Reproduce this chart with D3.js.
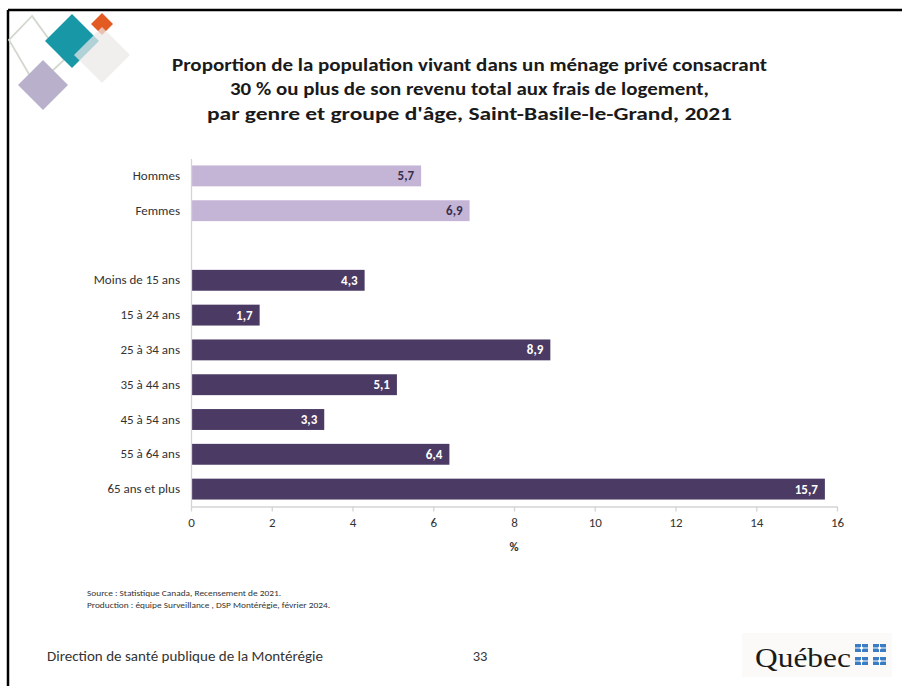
<!DOCTYPE html>
<html>
<head>
<meta charset="utf-8">
<script src="https://cdn.jsdelivr.net/npm/d3@7"></script>
<style>
  html, body { margin: 0; padding: 0; background: #fff; }
  svg { display: block; font-family: "Carlito", "Liberation Sans", Arial, sans-serif; }
</style>
</head>
<body>
<svg id="chart" width="902" height="686"></svg>
<script>
// ---- Data ----
const categories = ["Hommes", "Femmes", "", "Moins de 15 ans", "15 à 24 ans", "25 à 34 ans", "35 à 44 ans", "45 à 54 ans", "55 à 64 ans", "65 ans et plus"];
const values = [5.7, 6.9, null, 4.3, 1.7, 8.9, 5.1, 3.3, 6.4, 15.7];
const groups = ["genre", "genre", null, "age", "age", "age", "age", "age", "age", "age"];
const xTicks = [0, 2, 4, 6, 8, 10, 12, 14, 16];
const titleLines = [
  "Proportion de la population vivant dans un ménage privé consacrant",
  "30 % ou plus de son revenu total aux frais de logement,",
  "par genre et groupe d'âge, Saint-Basile-le-Grand, 2021"
];
const xAxisTitle = "%";
const sourceLines = [
  "Source : Statistique Canada, Recensement de 2021.",
  "Production : équipe Surveillance , DSP Montérégie, février 2024."
];
const footerLeft = "Direction de santé publique de la Montérégie";
const pageNumber = "33";

const colors = { genre: "#c4b5d6", age: "#4b3a63" };
const labelColors = { genre: "#3a2e4c", age: "#ffffff" };

const svg = d3.select("#chart");
const fmt = v => d3.format(".1f")(v).replace(".", ",");

// ---- Slide frame ----
svg.append("line").attr("x1", 8).attr("x2", 902).attr("y1", 10).attr("y2", 10)
  .attr("stroke", "#000").attr("stroke-width", 2.5);
svg.append("line").attr("x1", 8).attr("x2", 8).attr("y1", 10).attr("y2", 686)
  .attr("stroke", "#000").attr("stroke-width", 2.5);

// ---- Decorative logo (top-left) ----
const deco = svg.append("g");
function diamond(cx, cy, r) { return `${cx},${cy - r} ${cx + r},${cy} ${cx},${cy + r} ${cx - r},${cy}`; }
deco.append("polygon").attr("points", "32,16 9,40 36,86 64,60")
  .attr("fill", "none").attr("stroke", "#d2d8cd").attr("stroke-width", 1.8);
deco.append("polygon").attr("points", diamond(43, 85, 25)).attr("fill", "#b9b1cc");
deco.append("polygon").attr("points", diamond(72, 41, 27)).attr("fill", "#1898a7");
deco.append("polygon").attr("points", diamond(102, 24, 11)).attr("fill", "#e45a23");
deco.append("polygon").attr("points", diamond(102, 55, 28)).attr("fill", "#ebe8e7").attr("fill-opacity", 0.72);

// ---- Title ----
const titleWidths = [595, 479, 525];
const titleY = [71, 95, 120];
titleLines.forEach((t, i) => {
  svg.append("text").attr("x", 469.5).attr("y", titleY[i]).attr("text-anchor", "middle")
    .attr("font-size", 19).attr("font-weight", "bold").attr("fill", "#1a1a1a")
    .attr("textLength", titleWidths[i]).attr("lengthAdjust", "spacingAndGlyphs")
    .text(t);
});

// ---- Scales ----
const x = d3.scaleLinear().domain([0, 16]).range([191, 837]);
const y = d3.scaleBand().domain(categories).range([158.5, 506.5]).paddingInner(0.4).paddingOuter(0.2);

const rows = categories.map((c, i) => ({ c, v: values[i], g: groups[i] })).filter(d => d.v != null);

// ---- Bars ----
svg.append("g").selectAll("rect").data(rows).join("rect")
  .attr("x", x(0)).attr("y", d => y(d.c))
  .attr("width", d => x(d.v) - x(0)).attr("height", y.bandwidth())
  .attr("fill", d => colors[d.g]);

// ---- Value labels ----
svg.append("g").selectAll("text").data(rows).join("text")
  .attr("x", d => x(d.v) - 7).attr("y", d => y(d.c) + y.bandwidth() / 2)
  .attr("dy", "0.35em").attr("text-anchor", "end")
  .attr("font-size", 13).attr("font-weight", "bold")
  .attr("fill", d => labelColors[d.g])
  .text(d => fmt(d.v));

// ---- Y axis ----
const yAxis = svg.append("g").attr("transform", `translate(${x(0)},0)`)
  .call(d3.axisLeft(y).tickSize(0).tickPadding(11).tickFormat(d => d))
  .attr("font-family", null).attr("font-size", 13);
yAxis.select(".domain").attr("stroke", "#d4d4d4").attr("stroke-width", 1.3);
yAxis.selectAll("text").attr("fill", "#333");

// ---- X axis ----
const xAxis = svg.append("g").attr("transform", `translate(0,506.5)`)
  .call(d3.axisBottom(x).tickValues(xTicks).tickSize(5).tickPadding(6).tickSizeOuter(0).tickFormat(d3.format("d")))
  .attr("font-family", null).attr("font-size", 13);
xAxis.select(".domain").attr("stroke", "#d4d4d4").attr("stroke-width", 1.3);
xAxis.selectAll(".tick line").attr("stroke", "#d4d4d4").attr("stroke-width", 1.3);
xAxis.selectAll("text").attr("fill", "#333");

svg.append("text").attr("x", 514).attr("y", 551).attr("text-anchor", "middle")
  .attr("font-size", 12.5).attr("font-weight", "bold").attr("fill", "#333").text(xAxisTitle);

// ---- Source ----
const srcW = [194, 243];
sourceLines.forEach((t, i) => {
  svg.append("text").attr("x", 87).attr("y", 596 + i * 12)
    .attr("font-size", 8.5).attr("fill", "#333")
    .attr("textLength", srcW[i]).attr("lengthAdjust", "spacingAndGlyphs").text(t);
});

// ---- Footer ----
svg.append("text").attr("x", 47).attr("y", 661).attr("font-size", 14.5).attr("fill", "#333")
  .attr("textLength", 276).attr("lengthAdjust", "spacingAndGlyphs").text(footerLeft);
svg.append("text").attr("x", 480).attr("y", 661).attr("text-anchor", "middle")
  .attr("font-size", 14.5).attr("fill", "#333").text(pageNumber);

// ---- Québec logo ----
const logo = svg.append("g");
logo.append("rect").attr("x", 742).attr("y", 633).attr("width", 150).attr("height", 44).attr("fill", "#fbfaf8");
logo.append("text").attr("x", 755).attr("y", 667).attr("font-size", 27)
  .attr("font-family", "'Liberation Serif', 'DejaVu Serif', serif").attr("fill", "#1a1a1a")
  .attr("textLength", 96).attr("lengthAdjust", "spacingAndGlyphs").text("Québec");
[[855, 644], [873, 644], [855, 657], [873, 657]].forEach(([fx, fy]) => {
  logo.append("rect").attr("x", fx).attr("y", fy).attr("width", 13).attr("height", 8).attr("fill", "#3a7cc4");
  logo.append("rect").attr("x", fx + 6).attr("y", fy).attr("width", 1).attr("height", 8).attr("fill", "#fff");
  logo.append("rect").attr("x", fx).attr("y", fy + 3.5).attr("width", 13).attr("height", 1).attr("fill", "#fff");
  logo.append("circle").attr("cx", fx + 6.5).attr("cy", fy + 4).attr("r", 1.5).attr("fill", "#fff");
});
</script>
</body>
</html>
